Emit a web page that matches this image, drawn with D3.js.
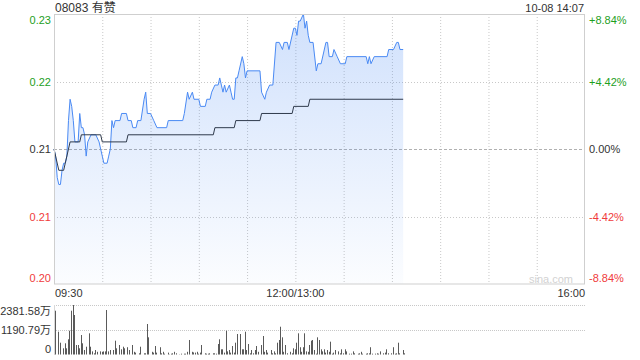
<!DOCTYPE html>
<html lang="en">
<head>
<meta charset="utf-8" />
<title>08083 有赞</title>
<style>
body { margin:0; background:#fff; }
text { font-family: "Liberation Sans", Arial, "Noto Sans CJK SC", sans-serif; }
</style>
</head>
<body>
<div id="chart"></div>
<script src="https://cdn.jsdelivr.net/npm/d3@7"></script>
<script type="text/javascript">
// header
var title = "08083 有赞";
var stamp = "10-08 14:07";

// price axis: prev close, tick prices, tick labels
var prevClose = 0.215;
var priceTicks = [0.234, 0.2245, 0.215, 0.2055, 0.196];
var priceLabels = ["0.23", "0.22", "0.21", "0.21", "0.20"];
var pctLabels = ["+8.84%", "+4.42%", "0.00%", "-4.42%", "-8.84%"];

// time axis (minutes since 09:30, lunch removed)
var timeTicks = [0, 30, 60, 90, 120, 150, 180, 210, 240, 270, 300, 330];
var timeLabels = ["09:30", "12:00/13:00", "16:00"];
var timeLabelAt = [0, 150, 330];

// price line
var priceMin = [0,1,2,3,4,5,6,7,8,9,10,11,12,13,15,16,17,18,19,20,21,23,26,28,29,30,31,33,34,35,36,37,38,41,42,45,46,48,49,51,52,54,56,57,58,60,62,64,70,71,80,81,83,84,86,87,90,91,94,95,97,98,100,102,103,104,105,106,107,109,110,111,112,113,114,115,117,118,119,120,128,129,131,132,134,136,138,140,142,143,145,146,149,150,151,152,153,155,156,157,158,159,161,163,164,166,169,170,171,173,174,176,178,181,182,194,195,196,197,199,207,208,211,213,214,215,217];
var priceVal = [0.215,0.214,0.211,0.210,0.210,0.212,0.213,0.213,0.214,0.219,0.222,0.221,0.219,0.216,0.216,0.220,0.218,0.218,0.217,0.214,0.216,0.217,0.217,0.216,0.215,0.214,0.213,0.213,0.214,0.215,0.219,0.218,0.219,0.219,0.220,0.220,0.219,0.219,0.218,0.218,0.219,0.219,0.222,0.223,0.220,0.220,0.219,0.218,0.218,0.219,0.219,0.220,0.223,0.222,0.223,0.222,0.222,0.221,0.221,0.222,0.222,0.223,0.224,0.224,0.225,0.224,0.223,0.224,0.223,0.224,0.223,0.222,0.222,0.225,0.225,0.226,0.228,0.227,0.225,0.226,0.226,0.223,0.222,0.223,0.224,0.224,0.230,0.230,0.229,0.230,0.230,0.229,0.232,0.232,0.231,0.233,0.233,0.234,0.232,0.233,0.231,0.230,0.230,0.226,0.227,0.227,0.230,0.230,0.228,0.228,0.229,0.228,0.227,0.227,0.228,0.228,0.227,0.228,0.227,0.228,0.228,0.229,0.229,0.230,0.230,0.229,0.229];

// average price line
var avgMin = [0,1,3,6,7,10,16,17,29,30,45,46,99,100,112,113,128,129,148,149,158,159,217];
var avgVal = [0.215,0.214,0.212,0.212,0.213,0.216,0.216,0.217,0.217,0.216,0.216,0.217,0.217,0.218,0.218,0.219,0.219,0.220,0.220,0.221,0.221,0.222,0.222];

// volume (万), by minute
var volMax = 2381.58;
var volTickLabels = ["2381.58万", "1190.79万", "0"];
var volMin = [0,2,3,5,6,7,8,9,10,11,12,13,14,15,16,17,18,19,21,22,23,24,25,26,28,29,30,31,32,33,34,36,37,38,40,41,42,43,45,46,48,49,50,52,53,55,56,57,58,60,61,62,63,65,66,67,68,70,71,72,73,74,75,77,78,80,81,82,83,85,86,87,88,89,90,91,93,94,95,96,98,99,100,101,102,103,104,105,106,107,108,109,110,111,112,113,115,116,117,118,119,120,121,122,123,124,125,126,128,129,130,131,132,134,135,136,137,138,139,140,141,142,143,144,146,147,148,149,150,151,152,153,154,155,156,157,158,159,160,161,162,163,164,165,166,167,168,169,170,171,172,173,174,176,177,178,179,180,181,183,184,185,186,188,189,190,191,193,194,195,196,197,199,200,201,202,204,205,206,207,209,210,211,212,213,214,216,217];
var volVal = [2107,1097,568,298,539,298,731,1145,2107,2381,1900,457,457,298,938,539,216,375,1020,375,150,58,216,130,150,130,150,150,2140,150,216,216,665,298,457,250,375,298,350,216,457,130,90,58,375,58,58,1467,827,130,90,409,90,350,58,130,40,90,10,40,58,130,58,10,40,40,40,130,698,130,100,90,130,40,90,457,58,40,40,58,58,58,40,505,731,250,250,90,1145,150,216,90,409,90,568,986,986,250,250,1097,216,505,58,216,58,216,409,130,457,890,130,216,90,216,58,150,58,568,698,1337,827,130,457,58,130,58,298,250,568,1020,350,130,350,1020,150,130,457,665,698,216,40,827,698,250,150,250,90,216,130,617,40,90,216,150,58,250,58,250,150,40,40,150,58,40,58,130,40,40,58,58,350,40,40,58,40,150,58,90,250,58,58,350,40,58,568,58,216,58];

var green = "#1ea01e", red = "#f03b3b", ink = "#333";

var svg = d3.select("#chart").append("svg")
    .attr("width", 640)
    .attr("height", 360);

var x = d3.scaleLinear().domain([0, 330]).range([54, 585]);
var y = d3.scaleLinear().domain([0.196, 0.234]).range([284, 14]);
var yv = d3.scaleLinear().domain([0, volMax]).range([354.5, 305]);

// gradient for the area under the price line
var grad = svg.append("defs").append("linearGradient")
    .attr("id", "fillGrad")
    .attr("gradientUnits", "userSpaceOnUse")
    .attr("x1", 0).attr("y1", 14).attr("x2", 0).attr("y2", 284);
grad.append("stop").attr("offset", "0%").attr("stop-color", "#4a8af4").attr("stop-opacity", 0.26);
grad.append("stop").attr("offset", "100%").attr("stop-color", "#4a8af4").attr("stop-opacity", 0.02);

// vertical grid
svg.selectAll(".vgrid")
   .data(timeTicks.slice(1, -1))
   .enter().append("line")
   .attr("x1", d => x(d) + 0.5).attr("x2", d => x(d) + 0.5)
   .attr("y1", 14).attr("y2", 284)
   .attr("stroke", "#c8c8c8")
   .attr("stroke-dasharray", "1,2");

// horizontal grid
svg.selectAll(".hgrid")
   .data(priceTicks.slice(1, -1))
   .enter().append("line")
   .attr("x1", 54).attr("x2", 585)
   .attr("y1", d => Math.round(y(d)) + 0.5).attr("y2", d => Math.round(y(d)) + 0.5)
   .attr("stroke", d => d === prevClose ? "#b0b0b0" : "#c8c8c8")
   .attr("stroke-dasharray", d => d === prevClose ? "3,2" : "1,2");

// price area + lines
var pts = priceMin.map((m, i) => [m, priceVal[i]]);
svg.append("path")
   .datum(pts)
   .attr("fill", "url(#fillGrad)")
   .attr("d", d3.area().x(d => x(d[0])).y0(284).y1(d => y(d[1])));
svg.append("path")
   .datum(pts)
   .attr("fill", "none")
   .attr("stroke", "#4a8af4")
   .attr("stroke-width", 1)
   .attr("d", d3.line().x(d => x(d[0])).y(d => y(d[1])));
svg.append("path")
   .datum(avgMin.map((m, i) => [m, avgVal[i]]))
   .attr("fill", "none")
   .attr("stroke", "#2f3a4c")
   .attr("stroke-width", 1)
   .attr("d", d3.line().x(d => x(d[0])).y(d => y(d[1])));

// frame
svg.append("rect")
   .attr("x", 54.5).attr("y", 14.5)
   .attr("width", 530).attr("height", 269.5)
   .attr("fill", "none")
   .attr("stroke", "#cfcfcf");

// watermark
svg.append("text")
   .attr("x", 573).attr("y", 283)
   .attr("text-anchor", "end")
   .attr("font-size", 11)
   .attr("fill", "#d2d2d2")
   .text("sina.com");

// price labels
var labelY = [20, 82, 149, 217, 278];
svg.selectAll(".pl")
   .data(priceLabels)
   .enter().append("text")
   .attr("x", 51).attr("y", (d, i) => labelY[i] + 4)
   .attr("text-anchor", "end")
   .attr("font-size", 11)
   .attr("fill", (d, i) => i < 2 ? green : (i === 2 ? ink : red))
   .text(d => d);
svg.selectAll(".pc")
   .data(pctLabels)
   .enter().append("text")
   .attr("x", 589).attr("y", (d, i) => labelY[i] + 4)
   .attr("font-size", 11)
   .attr("fill", (d, i) => i < 2 ? green : (i === 2 ? ink : red))
   .text(d => d);

// header
svg.append("text")
   .attr("x", 55).attr("y", 12)
   .attr("font-size", 12)
   .attr("fill", ink)
   .text(title);
svg.append("text")
   .attr("x", 584).attr("y", 12)
   .attr("text-anchor", "end")
   .attr("font-size", 11)
   .attr("fill", ink)
   .text(stamp);

// time labels
svg.selectAll(".tl")
   .data(timeLabels)
   .enter().append("text")
   .attr("x", (d, i) => i === 0 ? x(timeLabelAt[i]) + 1 : (i === 2 ? x(timeLabelAt[i]) : x(timeLabelAt[i])))
   .attr("y", 297)
   .attr("text-anchor", (d, i) => i === 0 ? "start" : (i === 1 ? "middle" : "end"))
   .attr("font-size", 11)
   .attr("fill", ink)
   .text(d => d);

// volume panel
svg.selectAll(".vg")
   .data([volMax, volMax / 2])
   .enter().append("line")
   .attr("x1", 54).attr("x2", 585)
   .attr("y1", d => Math.round(yv(d)) + 0.5).attr("y2", d => Math.round(yv(d)) + 0.5)
   .attr("stroke", "#c8c8c8")
   .attr("stroke-dasharray", "1,1");
svg.append("line")
   .attr("x1", 54.5).attr("x2", 54.5)
   .attr("y1", 305).attr("y2", 355)
   .attr("stroke", "#d8d8d8");
svg.selectAll(".vb")
   .data(volMin.map((m, i) => [m, volVal[i]]))
   .enter().append("rect")
   .attr("x", d => Math.round(x(d[0])) + 1)
   .attr("y", d => yv(d[1]))
   .attr("width", 1)
   .attr("height", d => yv(0) - yv(d[1]))
   .attr("fill", "#5a5a5a");
var volLabelY = [311, 330, 349];
svg.selectAll(".vl")
   .data(volTickLabels)
   .enter().append("text")
   .attr("x", 51).attr("y", (d, i) => volLabelY[i] + 4)
   .attr("text-anchor", "end")
   .attr("font-size", 11)
   .attr("fill", ink)
   .text(d => d);
</script>
</body>
</html>
